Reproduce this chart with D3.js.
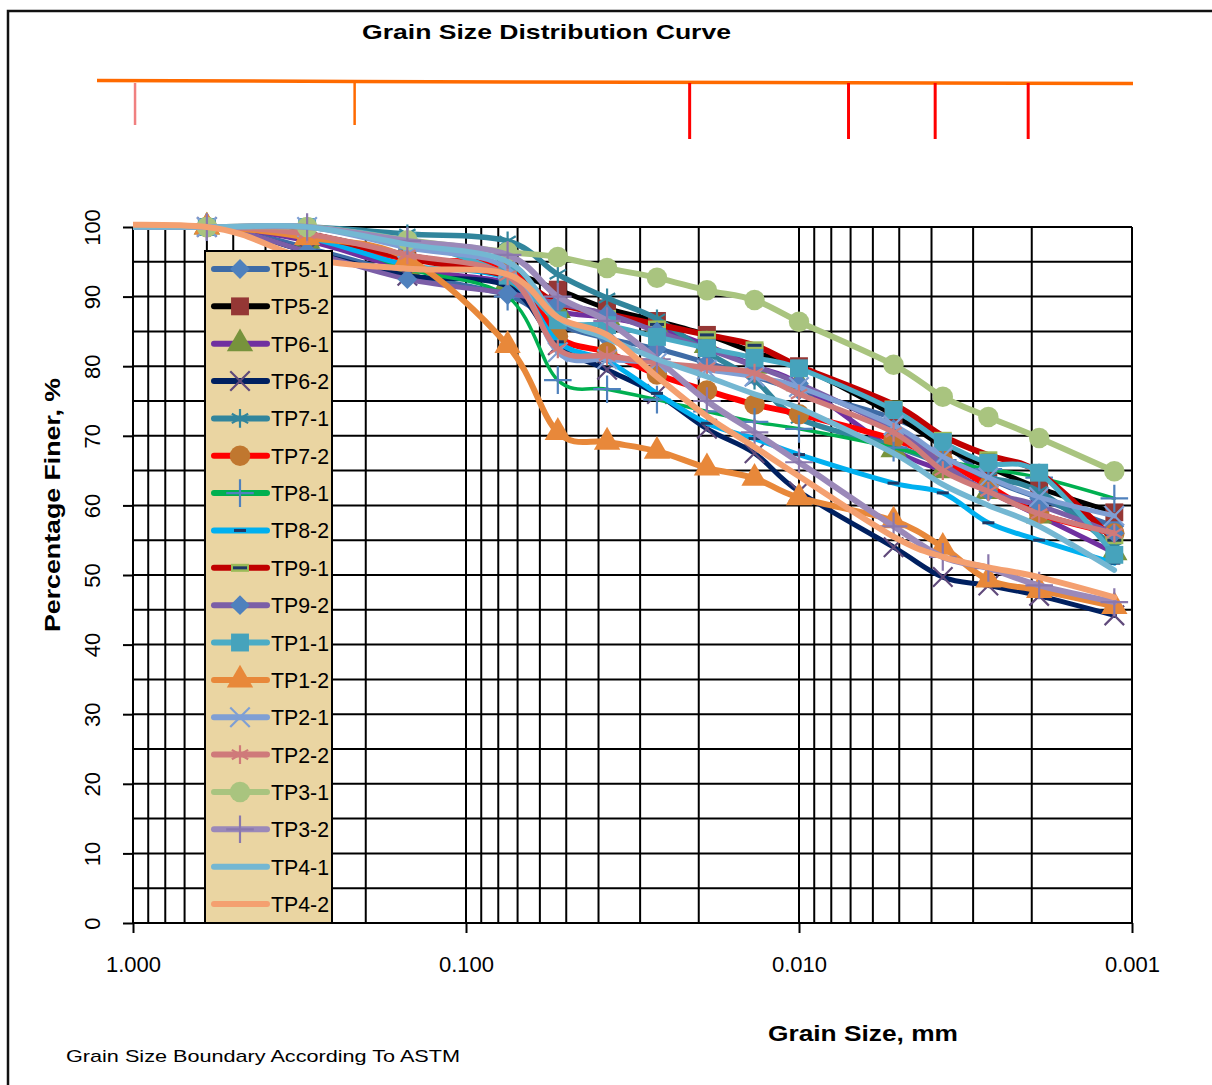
<!DOCTYPE html>
<html>
<head>
<meta charset="utf-8">
<script src="https://cdn.jsdelivr.net/npm/d3@7"></script>
<style>
  body { margin: 0; background: #fff; }
  svg { display: block; font-family: "Liberation Sans", Arial, sans-serif; }
</style>
</head>
<body>
<div id="myVis"></div>
<script>
// grain size distribution, sieve + hydrometer points (mm vs % finer)
var width = 1212;
var height = 1085;

var sizes = [2.0, 0.6, 0.3, 0.15, 0.075, 0.053, 0.0377, 0.0267, 0.0189, 0.0136, 0.0100, 0.0052, 0.0037, 0.0027, 0.0019, 0.00113];

var seriesNames = ["TP5-1", "TP5-2", "TP6-1", "TP6-2", "TP7-1", "TP7-2", "TP8-1", "TP8-2", "TP9-1",
  "TP9-2", "TP1-1", "TP1-2", "TP2-1", "TP2-2", "TP3-1", "TP3-2", "TP4-1", "TP4-2"];

var tp51 = [100, 100, 97, 93.2, 90.2, 86, 84, 82.5, 80.5, 78.5, 76.5, 72.5, 69, 64, 61, 57];
var tp52 = [100, 100, 99, 96, 93.5, 91, 88.3, 86.5, 84.5, 82, 80, 73, 68.5, 65.5, 62.5, 59];
var tp61 = [100, 100, 98, 94, 92, 88, 87, 85.5, 83, 80, 77.5, 68, 65, 62, 58.5, 53.2];
var tp62 = [100, 100, 96.5, 93, 91.5, 83, 79.5, 76, 71, 67.5, 62, 54, 49.7, 48.5, 47, 44.2];
var tp71 = [100, 100, 100, 99, 98, 93.2, 89.8, 86.8, 82, 78, 72.5, 68.5, 66, 64, 62, 54];
var tp72 = [100, 100, 98.6, 95.4, 94, 84.3, 82, 78.8, 76.5, 74.5, 73.1, 69.5, 66.5, 62.8, 58.8, 56];
var tp81 = [100, 100, 99, 94, 90, 78, 76.7, 75.2, 73.5, 72, 71, 68.3, 66.5, 65.2, 64, 61];
var tp82 = [100, 100, 98.5, 94.5, 92.5, 83.5, 80.8, 76.1, 71.8, 69.6, 67.3, 63.2, 61.8, 57.5, 55, 51.7];
var tp91 = [100, 100, 99, 95.5, 93, 89, 87.5, 86, 84.5, 83, 80, 74.5, 70, 67.2, 64.7, 55];
var tp92 = [100, 100, 96.5, 92.5, 90.5, 89, 87.5, 85, 82.5, 80, 77.5, 71, 66, 62, 60, 56];
var tp11 = [100, 100, 100, 98, 93, 86.6, 85.9, 84.2, 82.6, 81.2, 79.7, 73.7, 69.1, 66.1, 64.7, 52.9];
var tp12 = [100, 100, 98.5, 95.5, 83, 70.5, 69.1, 67.8, 65.4, 63.9, 61.1, 57.8, 54, 49.3, 47.8, 45.5];
var tp21 = [100, 100, 100, 97, 94, 82, 81, 80.5, 79.5, 78.5, 77, 71.5, 67, 64, 61.2, 58.5];
var tp22 = [100, 100, 99, 96, 93, 82.5, 81.5, 80.5, 79.8, 79, 76, 70.5, 65, 62, 58.8, 56];
var tp31 = [100, 100, 100, 98.1, 96.4, 95.7, 94.1, 92.7, 90.9, 89.5, 86.4, 80.2, 75.6, 72.7, 69.7, 64.9];
var tp32 = [100, 100, 100, 98, 96, 90, 86.5, 81, 75, 70.5, 66.2, 57, 52.6, 51, 48.5, 46.1];
var tp41 = [100, 100, 100, 97.5, 95, 87, 84, 81, 78.5, 76, 74, 67.5, 63, 60, 57, 50.7];
var tp42 = [100, 100, 95.5, 94, 93.2, 87, 84.5, 78.5, 72.8, 68.4, 64.2, 55.5, 52.6, 51.1, 49.7, 46.8];

var seriesValues = [tp51, tp52, tp61, tp62, tp71, tp72, tp81, tp82, tp91, tp92, tp11, tp12, tp21, tp22, tp31, tp32, tp41, tp42];

var xTicks = [1, 0.1, 0.01, 0.001];
var yTicks = [0, 10, 20, 30, 40, 50, 60, 70, 80, 90, 100];

// ASTM boundary marks drawn above the plot
var boundarySizes = [0.986, 0.216, 0.0213, 0.0071, 0.0039, 0.00205];
var boundaryColors = ["#f08080", "#ff6a00", "#ff0000", "#ff0000", "#ff0000", "#ff0000"];
var boundaryLong = [false, false, true, true, true, true];

// look of each series: line colour, line width, marker type, marker colour
var styles = [
  { line: "#3e6ba6", w: 5, m: "diamond", c: "#4f81bd" },
  { line: "#000000", w: 5, m: "square", c: "#953735" },
  { line: "#7030a0", w: 5, m: "triangle", c: "#77933c" },
  { line: "#002060", w: 5, m: "times", c: "#604a7b" },
  { line: "#31859c", w: 5.5, m: "asterisk", c: "#31859c" },
  { line: "#ff0000", w: 6, m: "circle", c: "#c0772f" },
  { line: "#00b050", w: 3.5, m: "plus", c: "#4f81bd" },
  { line: "#00b0f0", w: 5, m: "dash", c: "#1f3864" },
  { line: "#c00000", w: 6, m: "bar", c: "#1f3864" },
  { line: "#7b5ea7", w: 5, m: "diamond", c: "#4f81bd" },
  { line: "#4bacc6", w: 5, m: "square", c: "#46a3bc" },
  { line: "#e8883a", w: 6, m: "triangle", c: "#e8883a" },
  { line: "#7f9fd4", w: 5, m: "times", c: "#7f9fd4" },
  { line: "#cf7a7a", w: 5.5, m: "asterisk", c: "#cf7a7a" },
  { line: "#a9c47f", w: 6, m: "circle", c: "#a9c47f" },
  { line: "#9b89b9", w: 6, m: "plus", c: "#8a78ad" },
  { line: "#74b7d2", w: 5.5, m: null, c: null },
  { line: "#f4a070", w: 6, m: null, c: null }
];

var series = seriesNames.map(function (name, i) {
  return {
    name: name,
    style: styles[i],
    points: sizes.map(function (s, j) { return { size: s, pct: seriesValues[i][j] }; })
  };
});

var svg = d3.select("#myVis")
  .append("svg")
  .attr("width", width)
  .attr("height", height);

// outer frame
svg.append("rect")
  .attr("x", 8).attr("y", 11)
  .attr("width", 1210).attr("height", 1085)
  .attr("fill", "none")
  .attr("stroke", "#111")
  .attr("stroke-width", 2.5);

var x = d3.scaleLog().domain([1, 0.001]).range([133, 1132]);
var y = d3.scaleLinear().domain([0, 100]).range([923, 227]);

// title
svg.append("text")
  .attr("x", 362).attr("y", 39)
  .attr("font-size", 21).attr("font-weight", "bold")
  .attr("textLength", 369).attr("lengthAdjust", "spacingAndGlyphs")
  .text("Grain Size Distribution Curve");

// boundary bar on top
svg.append("path")
  .attr("d", "M97,80.5 L355,81.5 L1133,83.5")
  .attr("fill", "none")
  .attr("stroke", "#ff6a00")
  .attr("stroke-width", 3.5);

svg.selectAll(".bound")
  .data(boundarySizes)
  .enter()
  .append("line")
  .attr("class", "bound")
  .attr("x1", function (d) { return x(d); })
  .attr("x2", function (d) { return x(d); })
  .attr("y1", 83)
  .attr("y2", function (d, i) { return boundaryLong[i] ? 139 : 125; })
  .attr("stroke", function (d, i) { return boundaryColors[i]; })
  .attr("stroke-width", function (d, i) { return boundaryLong[i] ? 3 : 2.5; });

// grid
var grid = svg.append("g");
var hLines = d3.range(0, 101, 5);
grid.selectAll(".h")
  .data(hLines)
  .enter()
  .append("line")
  .attr("x1", 133).attr("x2", 1132)
  .attr("y1", function (d) { return y(d); })
  .attr("y2", function (d) { return y(d); })
  .attr("stroke", "#000")
  .attr("stroke-width", 2);

var vLines = [1];
[0.1, 0.01, 0.001].forEach(function (dec) {
  for (var k = 1; k <= 9; k++) vLines.push(k * dec);
});
grid.selectAll(".v")
  .data(vLines)
  .enter()
  .append("line")
  .attr("x1", function (d) { return x(d); })
  .attr("x2", function (d) { return x(d); })
  .attr("y1", 227).attr("y2", 923)
  .attr("stroke", "#000")
  .attr("stroke-width", 2);

// axes
var yAxis = svg.append("g")
  .attr("transform", "translate(133,0)")
  .call(d3.axisLeft(y).tickValues(yTicks).tickSize(10).tickSizeOuter(0).tickFormat(d3.format("d")));
yAxis.select(".domain").remove();
yAxis.selectAll("line").attr("stroke", "#000").attr("stroke-width", 2);
yAxis.selectAll("text")
  .attr("x", null).attr("dy", null)
  .attr("transform", "translate(-33,0) rotate(-90)")
  .attr("text-anchor", "middle")
  .attr("font-size", 22)
  .attr("font-family", "Liberation Sans, Arial, sans-serif")
  .attr("fill", "#000");

var xAxis = svg.append("g")
  .attr("transform", "translate(0,923)")
  .call(d3.axisBottom(x).tickValues(xTicks).tickSize(10).tickSizeOuter(0).tickPadding(23).tickFormat(d3.format(".3f")));
xAxis.select(".domain").remove();
xAxis.selectAll("line").attr("stroke", "#000").attr("stroke-width", 2);
xAxis.selectAll("text")
  .attr("font-size", 22)
  .attr("font-family", "Liberation Sans, Arial, sans-serif")
  .attr("fill", "#000");

// axis titles
svg.append("text")
  .attr("transform", "translate(60,632) rotate(-90)")
  .attr("font-size", 22).attr("font-weight", "bold")
  .attr("textLength", 254).attr("lengthAdjust", "spacingAndGlyphs")
  .text("Percentage Finer, %");

svg.append("text")
  .attr("x", 768).attr("y", 1041)
  .attr("font-size", 22).attr("font-weight", "bold")
  .attr("textLength", 190).attr("lengthAdjust", "spacingAndGlyphs")
  .text("Grain Size, mm");

svg.append("text")
  .attr("x", 66).attr("y", 1062)
  .attr("font-size", 17)
  .attr("textLength", 394).attr("lengthAdjust", "spacingAndGlyphs")
  .text("Grain Size Boundary According To ASTM");

// markers
function symPath(type, size) {
  var t = {
    diamond: d3.symbolDiamond2 || d3.symbolDiamond,
    square: d3.symbolSquare,
    triangle: d3.symbolTriangle,
    circle: d3.symbolCircle,
    times: d3.symbolTimes || d3.symbolX,
    asterisk: d3.symbolAsterisk,
    plus: d3.symbolPlus
  }[type];
  return d3.symbol().type(t).size(size)();
}

function drawMarker(g, st, cx, cy) {
  if (!st.m) return;
  if (st.m === "dash") {
    g.append("rect")
      .attr("x", cx - 6).attr("y", cy - 1.5)
      .attr("width", 12).attr("height", 3)
      .attr("fill", st.c);
  } else if (st.m === "bar") {
    g.append("rect")
      .attr("x", cx - 9).attr("y", cy - 4)
      .attr("width", 18).attr("height", 8)
      .attr("fill", "#9bbb59");
    g.append("rect")
      .attr("x", cx - 7).attr("y", cy - 1.5)
      .attr("width", 14).attr("height", 3)
      .attr("fill", st.c);
  } else if (st.m === "times" || st.m === "asterisk" || st.m === "plus") {
    g.append("path")
      .attr("d", symPath(st.m, 250))
      .attr("transform", "translate(" + cx + "," + cy + ")")
      .attr("fill", "none")
      .attr("stroke", st.c)
      .attr("stroke-width", 2.2);
  } else {
    var sz = { diamond: 250, square: 320, triangle: 300, circle: 330 }[st.m];
    g.append("path")
      .attr("d", symPath(st.m, sz))
      .attr("transform", "translate(" + cx + "," + cy + ")")
      .attr("fill", st.c);
  }
}

svg.append("clipPath")
  .attr("id", "plotClip")
  .append("rect")
  .attr("x", 133).attr("y", 0)
  .attr("width", 1010).attr("height", 1085);

var plot = svg.append("g").attr("clip-path", "url(#plotClip)");

var line = d3.line()
  .x(function (d) { return x(d.size); })
  .y(function (d) { return y(d.pct); })
  .curve(d3.curveCatmullRom.alpha(0));

series.forEach(function (s) {
  var g = plot.append("g");
  g.append("path")
    .attr("d", line(s.points))
    .attr("fill", "none")
    .attr("stroke", s.style.line)
    .attr("stroke-width", s.style.w)
    .attr("stroke-linejoin", "round")
    .attr("stroke-linecap", "round");
  s.points.forEach(function (p) {
    drawMarker(g, s.style, x(p.size), y(p.pct));
  });
});

// legend
var legend = svg.append("g");
legend.append("rect")
  .attr("x", 205).attr("y", 251)
  .attr("width", 127).attr("height", 672)
  .attr("fill", "#ead5a2")
  .attr("stroke", "#000")
  .attr("stroke-width", 2);

var legY = d3.scalePoint().domain(seriesNames).range([269, 904]);

series.forEach(function (s) {
  var ly = legY(s.name);
  legend.append("line")
    .attr("x1", 214).attr("x2", 267)
    .attr("y1", ly).attr("y2", ly)
    .attr("stroke", s.style.line)
    .attr("stroke-width", 6)
    .attr("stroke-linecap", "round");
  drawMarker(legend, s.style, 240, ly);
  legend.append("text")
    .attr("x", 271).attr("y", ly + 8)
    .attr("font-size", 22)
    .attr("textLength", 58).attr("lengthAdjust", "spacingAndGlyphs")
    .text(s.name);
});
</script>
</body>
</html>
